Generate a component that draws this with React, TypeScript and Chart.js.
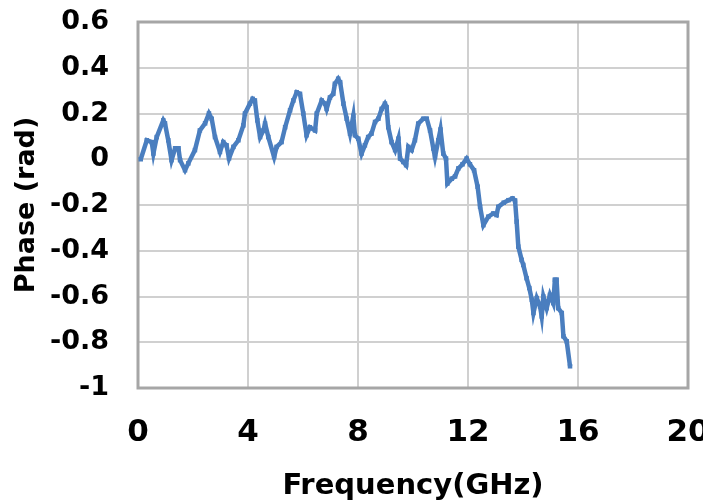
import React, { useEffect, useRef } from "react";
import { Chart, registerables } from "chart.js";

Chart.register(...registerables);

const freqGHz = [
  0.1, 0.32, 0.5, 0.56, 0.68, 0.92, 0.98, 1.1, 1.22, 1.35, 1.47, 1.53, 1.71, 1.83,
  2.07, 2.25, 2.44, 2.58, 2.68, 2.8, 2.98, 3.1, 3.22, 3.31, 3.47, 3.65, 3.83, 3.89,
  4.07, 4.17, 4.25, 4.34, 4.44, 4.56, 4.62, 4.74, 4.95, 5.04, 5.22, 5.35, 5.53, 5.65,
  5.77, 5.89, 6.01, 6.13, 6.25, 6.44, 6.5, 6.68, 6.8, 6.86, 6.98, 7.1, 7.16, 7.28,
  7.35, 7.47, 7.59, 7.71, 7.83, 7.89, 8.01, 8.13, 8.25, 8.37, 8.49, 8.62, 8.74, 8.86,
  8.98, 9.04, 9.1, 9.22, 9.35, 9.47, 9.53, 9.65, 9.75, 9.83, 9.95, 10.07, 10.19, 10.37,
  10.5, 10.62, 10.74, 10.8, 10.92, 11.0, 11.1, 11.2, 11.25, 11.41, 11.53, 11.65, 11.8,
  11.95, 12.07, 12.22, 12.35, 12.44, 12.56, 12.74, 12.92, 13.04, 13.1, 13.3, 13.47,
  13.62, 13.71, 13.77, 13.83, 13.95, 14.01, 14.13, 14.23, 14.32, 14.38, 14.5, 14.62,
  14.68, 14.74, 14.86, 14.98, 15.1, 15.16, 15.22, 15.28, 15.41, 15.47, 15.59, 15.71,
];

const phaseRad = [
  0.0, 0.083, 0.075, 0.025, 0.097, 0.17, 0.157, 0.083, -0.004, 0.048, 0.048, -0.004, -0.048, -0.018,
  0.04, 0.126, 0.157, 0.2, 0.177, 0.097, 0.032, 0.075, 0.061, 0.004, 0.054, 0.083, 0.148, 0.2,
  0.243, 0.264, 0.257, 0.17, 0.097, 0.126, 0.156, 0.097, 0.01, 0.054, 0.075, 0.14, 0.214, 0.257,
  0.293, 0.286, 0.2, 0.105, 0.14, 0.126, 0.2, 0.257, 0.243, 0.22, 0.27, 0.286, 0.33, 0.352,
  0.337, 0.243, 0.177, 0.112, 0.19, 0.105, 0.09, 0.025, 0.061, 0.097, 0.112, 0.163, 0.177, 0.22,
  0.243, 0.228, 0.14, 0.075, 0.04, 0.09, 0.003, -0.012, -0.026, 0.054, 0.04, 0.083, 0.156, 0.177,
  0.177, 0.126, 0.047, 0.01, 0.083, 0.13, 0.025, 0.003, -0.106, -0.085, -0.075, -0.04, -0.022,
  0.003, -0.022, -0.048, -0.12, -0.208, -0.288, -0.251, -0.237, -0.244, -0.208, -0.19, -0.179,
  -0.171, -0.18, -0.273, -0.382, -0.44, -0.462, -0.52, -0.563, -0.614, -0.672, -0.607, -0.643,
  -0.687, -0.6, -0.651, -0.593, -0.629, -0.527, -0.527, -0.651, -0.672, -0.774, -0.796, -0.905,
];

const xTitle = "Frequency(GHz)";
const yTitle = "Phase (rad)";

const frame = {
  id: "frame",
  beforeDatasetsDraw(chart: any) {
    const { ctx, chartArea } = chart;
    ctx.save();
    ctx.strokeStyle = "#a6a6a6";
    ctx.lineWidth = 3;
    ctx.strokeRect(chartArea.left, chartArea.top, chartArea.right - chartArea.left, chartArea.bottom - chartArea.top);
    ctx.restore();
  },
};

export default function App() {
  const ref = useRef<HTMLCanvasElement | null>(null);
  useEffect(() => {
    if (!ref.current) return;
    const points = freqGHz.map((x, i) => ({ x, y: phaseRad[i] }));
    const chart = new Chart(ref.current, {
      type: "scatter",
      data: {
        datasets: [
          {
            data: points,
            showLine: true,
            borderColor: "#4a7ebf",
            backgroundColor: "#4a7ebf",
            borderWidth: 4.5,
            pointStyle: "rect",
            pointRadius: 3.2,
            pointBorderWidth: 0,
            tension: 0,
          },
        ],
      },
      plugins: [frame],
      options: {
        animation: false,
        responsive: true,
        maintainAspectRatio: false,
        layout: { padding: { top: 22, right: 15, left: 0, bottom: 0 } },
        plugins: { legend: { display: false }, tooltip: { enabled: false } },
        scales: {
          x: {
            type: "linear",
            min: 0,
            max: 20,
            border: { display: false },
            grid: { color: "#d0d0d0", lineWidth: 2, drawTicks: false },
            ticks: {
              stepSize: 4,
              padding: 29,
              color: "#000",
              maxRotation: 0,
              font: { family: "DejaVu Sans", weight: "bold", size: 31, lineHeight: 1 },
            },
            title: {
              display: true,
              text: xTitle,
              color: "#000",
              padding: 0,
              font: { family: "DejaVu Sans", weight: "bold", size: 29, lineHeight: 1 },
            },
            afterFit(scale: any) {
              scale.height = 113;
              scale.paddingLeft = 0;
              scale.paddingRight = 0;
            },
          },
          y: {
            type: "linear",
            min: -1,
            max: 0.6,
            border: { display: false },
            grid: { color: "#d0d0d0", lineWidth: 2, drawTicks: false },
            ticks: {
              stepSize: 0.2,
              padding: 29,
              color: "#000",
              font: { family: "DejaVu Sans", weight: "bold", size: 27, lineHeight: 1 },
              callback: (v: any) => String(Number(Number(v).toFixed(1))),
            },
            title: {
              display: true,
              text: yTitle,
              color: "#000",
              padding: { top: 13, bottom: 0 },
              font: { family: "DejaVu Sans", weight: "bold", size: 27, lineHeight: 1 },
            },
            afterFit(scale: any) {
              scale.width = 138;
              scale.paddingTop = 0;
              scale.paddingBottom = 0;
            },
          },
        },
      },
    });
    return () => chart.destroy();
  }, []);
  return (
    <div style={{ position: "fixed", left: 0, top: 0, width: 703, height: 501 }}>
      <canvas ref={ref} style={{ width: 703, height: 501 }} />
    </div>
  );
}
